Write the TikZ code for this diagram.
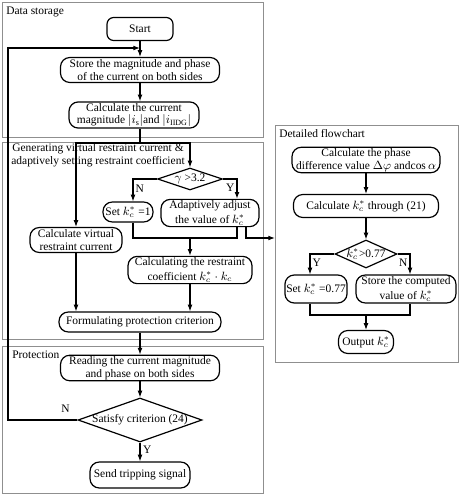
\documentclass[tikz,border=0pt]{standalone}
\usepackage{fontspec}
\setmainfont{Liberation Serif}
\usepackage{amsmath}
\usetikzlibrary{arrows.meta,positioning,shapes.geometric,calc}
\definecolor{framegray}{HTML}{8F8F8F}
\newcommand{\kcs}{k^{*}_{c}}

\begin{document}
\begin{tikzpicture}[
  x=0.75pt,y=-0.75pt,>={Latex[length=5pt,width=3.6pt]},
  font=\fontsize{8.6}{9.4}\selectfont,
  bx/.style 2 args={draw,line width=0.9pt,rounded corners=7pt,inner sep=1pt,align=center,
    minimum width=#1*0.75pt,minimum height=#2*0.75pt},
  dm/.style 2 args={draw,line width=0.9pt,diamond,inner sep=0pt,
    minimum width=#1*0.75pt,minimum height=#2*0.75pt},
  fr/.style={draw=framegray,line width=0.6pt},
  ar/.style={->,line width=0.8pt},
  ln/.style={line width=0.8pt},
  lb/.style={inner sep=0pt}
]
\useasboundingbox (0,0) rectangle (462,500);

% data storage
\draw[fr] (2,2) rectangle (263,137);
\node[lb,anchor=west] (tds) at (6,12) {Data storage};
\node[bx={66}{23},rounded corners=5pt] (start) at (140,29) {Start};
\node[bx={159}{25}] (store) at (140,70) {Store the magnitude and phase\\of the current on both sides};
\node[bx={130}{25}] (curmag) at (134,115) {Calculate the current\\magnitude $|i_{\mathrm{s}}|$and $|i_{\mathrm{IIDG}}|$};

% generating virtual restraint current
\draw[fr] (2,142) rectangle (263,339);
\node[lb,align=center] (tgen) at (98,155) {Generating virtual restraint current \&\\adaptively setting restraint coefficient};
\node[dm={65}{22},label=center:{$\gamma$ >3.2}] (gam) at (190,179) {};
\node[bx={50}{20}] (setk) at (128,212) {Set $\kcs$ =1};
\node[bx={98}{22}] (adapt) at (210,213) {Adaptively adjust\\[1.5pt]the value of $\kcs$};
\node[bx={92}{25}] (virt) at (76,240) {Calculate virtual\\restraint current};
\node[bx={124}{25}] (coef) at (190,270) {Calculating the restraint\\[1.5pt]coefficient $\kcs\cdot k_{c}$};
\node[bx={162}{20}] (form) at (140,322) {Formulating protection criterion};

% protection
\draw[fr] (2,346) rectangle (263,493);
\node[lb,anchor=west] (tpro) at (12,355) {Protection};
\node[bx={159}{24}] (read) at (140,368) {Reading the current magnitude\\and phase on both sides};
\node[dm={124}{44},label=center:{Satisfy criterion (24)}] (sat) at (140,420) {};
\node[bx={100}{26}] (send) at (140,475) {Send tripping signal};

% detailed flowchart
\draw[fr] (275,125) rectangle (458,362);
\node[lb,anchor=west] (tdet) at (279,134) {Detailed flowchart};
\node[bx={148}{24}] (phase) at (366,160) {Calculate the phase\\difference value $\Delta\varphi$ and$\cos\alpha$};
\node[bx={145}{23}] (kcalc) at (366,206) {Calculate $\kcs$ through (21)};
\node[dm={62}{28},label=center:{$\kcs$>0.77}] (kdm) at (366,254) {};
\node[bx={60}{28}] (set77) at (316,289) {Set $\kcs$ =0.77};
\node[bx={100}{28}] (sto77) at (406,289) {Store the computed\\[1.5pt]value of $\kcs$};
\node[bx={55}{23}] (out) at (366,342) {Output $\kcs$};

\coordinate (lp) at (8,48);
\coordinate (sp) at (140,143);
\coordinate (nx) at (133,179);
\coordinate (yx) at (237,179);
\coordinate (mg) at (190,238);
\coordinate (ax) at (246,238);
\coordinate (dt) at (275,238);
\coordinate (yx2) at (310,254);
\coordinate (nx2) at (410,254);
\coordinate (mg2) at (366,315);

% left column
\draw[ar] (start) -- (store);
\draw[ar] (store.south) -- (store.south |- curmag.north);
\draw[ln] (store.south |- curmag.south) -- (sp);
\draw[ar] (sp) -| (virt.north);
\draw[ar] (sp) -| (gam.north);
\draw[ar] (gam.west) -- (nx) -- (nx |- setk.north) node[right,pos=0.45,inner sep=1.5pt] {N};
\draw[ar] (gam.east) -- (yx) -- (yx |- adapt.north) node[left,pos=0.45,inner sep=1.5pt] {Y};
\draw[ln] (nx |- setk.south) |- (mg) -| (yx |- adapt.south);
\draw[ar] (mg) -- (coef);
\draw[ar] (ax |- adapt.south) -- (ax) -- (dt);
\draw[ar] (virt) -- (virt |- form.north);
\draw[ar] (coef) -- (coef |- form.north);
\draw[ar] (form) -- (read);
\draw[ar] (read) -- (sat);
\draw[ar] (sat) -- (send) node[right,pos=0.4,inner sep=2pt] {Y};
\draw[ar] (sat.west) -| node[pos=0.085,above=2pt] {N} (lp) -- (lp -| start.south);

% right column
\draw[ar] (phase) -- (kcalc);
\draw[ar] (kcalc) -- (kdm);
\draw[ar] (kdm.west) -- (yx2) -- (yx2 |- set77.north) node[right,pos=0.45,inner sep=1.5pt] {Y};
\draw[ar] (kdm.east) -- (nx2) -- (nx2 |- sto77.north) node[left,pos=0.45,inner sep=1.5pt] {N};
\draw[ln] (yx2 |- set77.south) |- (mg2) -| (nx2 |- sto77.south);
\draw[ar] (mg2) -- (out);
\end{tikzpicture}
\end{document}
